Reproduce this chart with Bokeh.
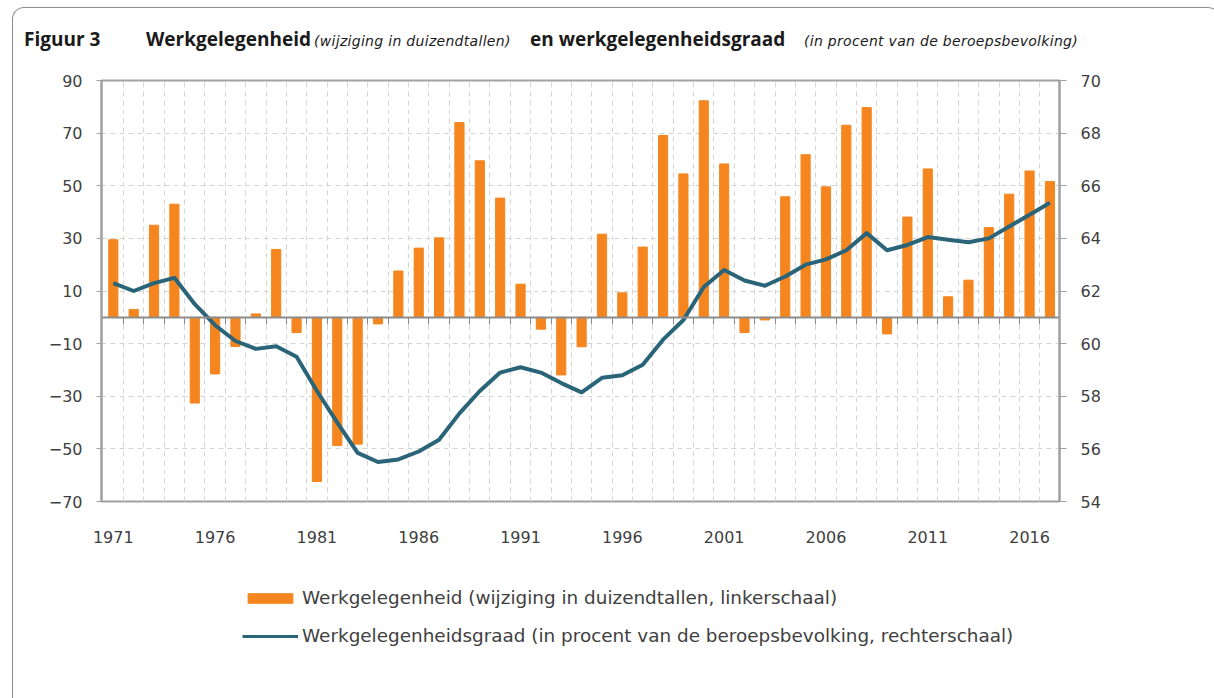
from bokeh.plotting import figure
from bokeh.layouts import column
from bokeh.models import Range1d, LinearAxis, FixedTicker, Legend, LegendItem, Div
from bokeh.embed import file_html
from bokeh.resources import INLINE

years = list(range(1971, 2018))
werkgelegenheid = [29.5, 3.0, 35.0, 43.0, -32.6, -21.5, -11.1, 1.3, 25.8, -5.8,
                   -62.4, -48.7, -48.2, -2.5, 17.6, 26.3, 30.2, 74.0, 59.5, 45.3,
                   12.6, -4.5, -21.9, -11.2, 31.6, 9.3, 26.7, 69.1, 54.5, 82.3,
                   58.3, -5.8, -1.0, 45.8, 61.8, 49.6, 73.0, 79.7, -6.3, 38.1,
                   56.4, 7.8, 14.1, 34.1, 46.8, 55.6, 51.6]
werkgelegenheidsgraad = [62.3, 62.0, 62.3, 62.5, 61.5, 60.7, 60.1, 59.8, 59.9, 59.5,
                         58.2, 57.0, 55.85, 55.5, 55.6, 55.9, 56.35, 57.35, 58.2, 58.9,
                         59.1, 58.9, 58.5, 58.15, 58.7, 58.8, 59.2, 60.15, 60.9, 62.15,
                         62.8, 62.4, 62.2, 62.55, 63.0, 63.2, 63.55, 64.2, 63.55, 63.75,
                         64.05, 63.95, 63.85, 64.0, 64.45, 64.9, 65.35]
left_ticks = [90, 70, 50, 30, 10, -10, -30, -50, -70]
right_ticks = [54, 56, 58, 60, 62, 64, 66, 68, 70]
year_labels = [1971, 1976, 1981, 1986, 1991, 1996, 2001, 2006, 2011, 2016]

title_parts = [("Figuur 3", "bold", 19, 122),
               ("Werkgelegenheid", "bold", 19, 168),
               ("(wijziging in duizendtallen)", "italic", 14, 216),
               ("en werkgelegenheidsgraad", "bold", 19, 274),
               ("(in procent van de beroepsbevolking)", "italic", 14, 300)]

label_bar = "Werkgelegenheid (wijziging in duizendtallen, linkerschaal)"
label_line = "Werkgelegenheidsgraad (in procent van de beroepsbevolking, rechterschaal)"

ORANGE = "#F5861F"
TEAL = "#2A6478"
AXIS = "#a0a0a0"
GRID = "#d4d4d4"
TXT = "#404040"
FONT = "DejaVu Sans"
TFONT = "Open Sans"

boundaries = [y + 0.5 for y in years[:-1]]

# ---- title as HTML ----
spans = []
for text, style, size, w in title_parts:
    if style == "bold":
        st = f"font-weight:bold;font-family:'{TFONT}';"
    else:
        st = f"font-style:italic;font-family:'{FONT}';letter-spacing:0.3px;"
    spans.append(f'<span style="display:inline-block;width:{w}px;{st}font-size:{size}px;">{text}</span>')
title_html = ('<div style="position:absolute;left:6px;top:17px;white-space:nowrap;'
              'line-height:1;color:#1a1a1a;">' + "".join(spans) + "</div>")
title_div = Div(text=title_html, width=1196, height=49,
                styles={"position": "relative"})

# ---- chart ----
p = figure(width=1196, height=502, output_backend="svg", toolbar_location=None,
           x_range=Range1d(1970.42, 2017.47), y_range=Range1d(-70, 90),
           min_border_left=88, min_border_right=150, min_border_top=13,
           min_border_bottom=68)
p.extra_y_ranges = {"right": Range1d(54, 70)}
p.outline_line_color = AXIS
p.outline_line_width = 2

bars = p.vbar(x=years, top=werkgelegenheid, width=0.45, fill_color=ORANGE,
              line_color=ORANGE)
line = p.line(years, werkgelegenheidsgraad, y_range_name="right", line_width=4,
              line_color=TEAL, line_join="round")

ya = p.yaxis[0]
ya.ticker = FixedTicker(ticks=left_ticks)
ya.axis_line_color = AXIS
ya.axis_line_width = 2
ya.major_tick_out = 5
ya.major_tick_in = 0
ya.major_tick_line_color = AXIS
ya.minor_tick_line_color = None
ya.major_label_text_font = FONT
ya.major_label_text_font_size = "16px"
ya.major_label_text_color = TXT
ya.major_label_standoff = 14

ra = LinearAxis(y_range_name="right", ticker=FixedTicker(ticks=right_ticks))
ra.axis_line_color = AXIS
ra.axis_line_width = 2
ra.major_tick_out = 7
ra.major_tick_in = 0
ra.major_tick_line_color = AXIS
ra.minor_tick_line_color = None
ra.major_label_text_font = FONT
ra.major_label_text_font_size = "16px"
ra.major_label_text_color = TXT
ra.major_label_standoff = 14
p.add_layout(ra, "right")

xa = p.xaxis[0]
xa.ticker = FixedTicker(ticks=year_labels)
xa.axis_line_color = None
xa.major_tick_out = 0
xa.major_tick_in = 0
xa.major_tick_line_color = None
xa.minor_tick_line_color = None
xa.major_label_text_font = FONT
xa.major_label_text_font_size = "16px"
xa.major_label_text_color = TXT
xa.major_label_standoff = 29

za = LinearAxis(fixed_location=0, ticker=FixedTicker(ticks=boundaries))
za.axis_line_color = "#8c8c8c"
za.axis_line_width = 2
za.major_tick_out = 7
za.major_tick_in = 0
za.major_tick_line_color = "#8c8c8c"
za.minor_tick_line_color = None
za.major_label_text_font_size = "0px"
za.major_label_text_color = None
za.major_label_standoff = 0
p.add_layout(za, "below")

p.xgrid.ticker = FixedTicker(ticks=boundaries)
p.xgrid.grid_line_color = GRID
p.xgrid.grid_line_dash = "5 4"
p.ygrid.grid_line_color = GRID
p.ygrid.grid_line_dash = "5 4"

# ---- legend panel (legend keys taken from hidden copies of the two series) ----
lg = figure(width=1196, height=139, output_backend="svg", toolbar_location=None,
            x_range=Range1d(1970.42, 2017.47), y_range=Range1d(-70, 90),
            x_axis_type=None, y_axis_type=None,
            min_border_left=0, min_border_right=0, min_border_top=0,
            min_border_bottom=0)
lg.outline_line_color = None
lg.grid.visible = False
lbars = lg.vbar(x=years, top=werkgelegenheid, width=0.45, fill_color=ORANGE,
                line_color=ORANGE, visible=False)
lline = lg.line(years, werkgelegenheid, line_width=3, line_color=TEAL,
                visible=False)

legend = Legend(items=[LegendItem(label=label_bar, renderers=[lbars]),
                       LegendItem(label=label_line, renderers=[lline])],
                location=(141, 62), orientation="vertical",
                glyph_width=56, glyph_height=12, label_height=20, spacing=17,
                padding=0, margin=0, border_line_color=None,
                background_fill_alpha=0, label_standoff=4,
                label_text_font=FONT, label_text_font_size="18.4px",
                label_text_color=TXT)
lg.add_layout(legend, "center")

layout = column(title_div, p, lg, spacing=0,
                styles={"margin-left": "12px", "margin-top": "7px",
                        "border-top": "1px solid #8c8c8c",
                        "border-left": "1px solid #8c8c8c",
                        "border-right": "1px solid #8c8c8c",
                        "border-radius": "12px 12px 0 0"})

open("out.html", "w").write(file_html(layout, INLINE))
